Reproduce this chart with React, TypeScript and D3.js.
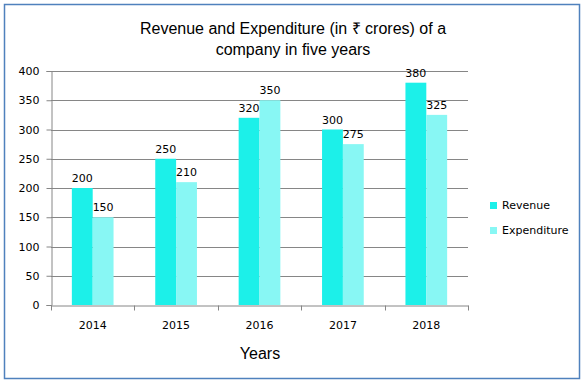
import React, { useEffect, useRef } from "react";
import * as d3 from "d3";

const WIDTH = 586;
const HEIGHT = 384;

const years = ["2014", "2015", "2016", "2017", "2018"];
const revenue = [200, 250, 320, 300, 380];
const expenditure = [150, 210, 350, 275, 325];
const yTicks = [0, 50, 100, 150, 200, 250, 300, 350, 400];
const seriesNames = ["Revenue", "Expenditure"];
const colors = ["#1CF0E9", "#88F7F4"];

const margin = { top: 71, right: 118, bottom: 79, left: 51 };

const App: React.FC = () => {
  const ref = useRef<SVGSVGElement>(null);

  useEffect(() => {
    const container = ref.current;
    if (!container) return;

    const svg = d3.select(container);
    svg.selectAll("*").remove();

    const innerW = WIDTH - margin.left - margin.right;
    const innerH = HEIGHT - margin.top - margin.bottom;

    // outer frame
    svg
      .append("rect")
      .attr("x", 4.5)
      .attr("y", 4.5)
      .attr("width", 575)
      .attr("height", 374)
      .attr("fill", "#fff")
      .attr("stroke", "#4F81BD")
      .attr("stroke-width", 1.5);

    // title
    const title = svg
      .append("text")
      .attr("text-anchor", "middle")
      .attr("font-family", "'Liberation Sans', Arial, sans-serif")
      .attr("font-size", 16)
      .attr("fill", "#000");
    title.append("tspan").attr("x", 293).attr("y", 34).text("Revenue and Expenditure (in ₹ crores) of a");
    title.append("tspan").attr("x", 293).attr("y", 55).text("company in five years");

    const g = svg.append("g").attr("transform", `translate(${margin.left},${margin.top})`);

    const x = d3.scaleBand().domain(years).range([0, innerW]).paddingInner(0).paddingOuter(0);
    // two bars per year, half the category wide, centred
    const x1 = d3
      .scaleBand()
      .domain(seriesNames)
      .range([0, x.bandwidth()])
      .paddingInner(0)
      .paddingOuter(1);
    const y = d3.scaleLinear().domain([0, 400]).range([innerH, 0]);

    // gridlines
    g.append("g")
      .selectAll("line")
      .data(yTicks.filter((t) => t > 0))
      .enter()
      .append("line")
      .attr("x1", 0)
      .attr("x2", innerW)
      .attr("y1", (d) => Math.round(y(d)) + 0.5)
      .attr("y2", (d) => Math.round(y(d)) + 0.5)
      .attr("stroke", "#868686");

    // y axis
    const yAxis = d3.axisLeft(y).tickValues(yTicks).tickSize(5).tickPadding(7);
    const yg = g.append("g").attr("transform", "translate(0.5,0)").call(yAxis);
    yg.selectAll("line, path").attr("stroke", "#868686");
    yg.selectAll("text")
      .attr("font-family", "'DejaVu Sans', Tahoma, sans-serif")
      .attr("font-size", 11)
      .attr("fill", "#000");

    // bars
    const series = [revenue, expenditure];
    const groups = g
      .append("g")
      .selectAll("g")
      .data(years)
      .enter()
      .append("g")
      .attr("transform", (d) => `translate(${x(d)},0)`);

    groups
      .selectAll("rect")
      .data((d, i) => seriesNames.map((s, j) => ({ s, v: series[j][i] })))
      .enter()
      .append("rect")
      .attr("x", (d) => x1(d.s)!)
      .attr("width", x1.bandwidth())
      .attr("y", (d) => y(d.v))
      .attr("height", (d) => innerH - y(d.v))
      .attr("fill", (d, j) => colors[j]);

    groups
      .selectAll("text")
      .data((d, i) => seriesNames.map((s, j) => ({ s, v: series[j][i] })))
      .enter()
      .append("text")
      .attr("x", (d) => x1(d.s)! + x1.bandwidth() / 2)
      .attr("y", (d) => y(d.v) - 6)
      .attr("text-anchor", "middle")
      .attr("font-family", "'DejaVu Sans', Tahoma, sans-serif")
      .attr("font-size", 11)
      .attr("fill", "#000")
      .text((d) => d.v);

    // x axis
    const xAxis = d3.axisBottom(x).tickSize(0).tickPadding(16);
    const xg = g.append("g").attr("transform", `translate(0,${innerH + 0.5})`).call(xAxis);
    xg.selectAll("path").attr("stroke", "#868686");
    xg.selectAll("text")
      .attr("font-family", "'DejaVu Sans', Tahoma, sans-serif")
      .attr("font-size", 11)
      .attr("fill", "#000");
    // category separators
    xg.append("g")
      .selectAll("line")
      .data(d3.range(years.length + 1))
      .enter()
      .append("line")
      .attr("x1", (i) => Math.round((innerW / years.length) * i) + 0.5)
      .attr("x2", (i) => Math.round((innerW / years.length) * i) + 0.5)
      .attr("y1", 0)
      .attr("y2", 5)
      .attr("stroke", "#868686");

    // x axis title
    svg
      .append("text")
      .attr("x", 260)
      .attr("y", 359)
      .attr("text-anchor", "middle")
      .attr("font-family", "'Liberation Sans', Arial, sans-serif")
      .attr("font-size", 16)
      .attr("fill", "#000")
      .text("Years");

    // legend
    const legend = svg
      .append("g")
      .selectAll("g")
      .data(seriesNames)
      .enter()
      .append("g")
      .attr("transform", (d, i) => `translate(490,${202 + i * 25})`);
    legend
      .append("rect")
      .attr("width", 7)
      .attr("height", 7)
      .attr("fill", (d, i) => colors[i]);
    legend
      .append("text")
      .attr("x", 12)
      .attr("y", 7)
      .attr("font-family", "'DejaVu Sans', Tahoma, sans-serif")
      .attr("font-size", 11)
      .attr("fill", "#000")
      .text((d) => d);
  }, [ref]);

  return (
    <svg
      ref={ref}
      width={WIDTH}
      height={HEIGHT}
      style={{ position: "absolute", left: 0, top: 0, background: "#fff" }}
    />
  );
};

export default App;
